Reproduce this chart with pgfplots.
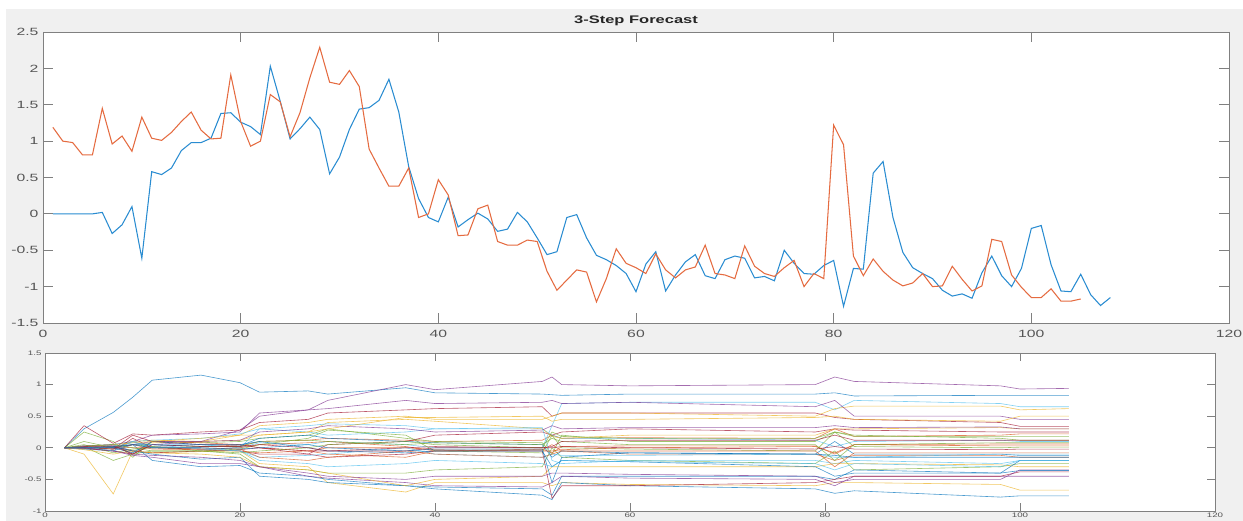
\documentclass[border=0pt]{standalone}
\usepackage{fontspec}
\setmainfont[FakeStretch=1.5]{Liberation Sans}
\usepackage{pgfplots}
\usepackage{pgfplotstable}
\pgfplotsset{compat=1.18}
\definecolor{mblue}{rgb}{0.16,0.55,0.82}
\definecolor{morange}{rgb}{0.90,0.42,0.25}
\definecolor{myellow}{rgb}{0.929,0.694,0.125}
\definecolor{mpurple}{rgb}{0.494,0.184,0.557}
\definecolor{mgreen}{rgb}{0.466,0.674,0.188}
\definecolor{mlblue}{rgb}{0.301,0.745,0.933}
\definecolor{mred}{rgb}{0.635,0.078,0.184}
\definecolor{fblue}{rgb}{0,0.447,0.741}
\definecolor{forange}{rgb}{0.851,0.325,0.098}
\definecolor{figbg}{RGB}{240,240,240}
\definecolor{axc}{RGB}{128,128,128}
\definecolor{tickc}{RGB}{85,85,85}
\pgfplotscreateplotcyclelist{matlab}{{fblue},{forange},{myellow},{mpurple},{mgreen},{mlblue},{mred}}

\pgfplotstableread{
name c1 c2 c3 c4 c5 c6 c7 c8 c9 c10 c11 c12 c13 c14 c15 c16 c17 c18 c19 c20 c21 c22
x 2 4 7 9 11 16 20 22 27 29 37 40 51 52 53 60 79 81 83 98 100 105
s1 0 0.3 0.56 0.8 1.07 1.15 1.03 0.88 0.9 0.85 0.95 0.87 0.85 0.84 0.83 0.85 0.85 0.87 0.82 0.83 0.83 0.83
s2 0 0.02 0 -0.05 0.02 0.05 0.03 0.1 0.12 0.15 0.12 0.1 0.12 0.2 0.15 0.16 0.15 0.3 0.18 0.2 0.22 0.22
s3 0 -0.1 -0.73 -0.05 -0.08 -0.06 -0.05 -0.25 -0.3 -0.55 -0.7 -0.55 -0.55 -0.6 -0.55 -0.58 -0.6 -0.55 -0.55 -0.58 -0.67 -0.67
s4 0 0.03 0.05 -0.1 0.05 0.1 0.28 0.5 0.6 0.75 1.0 0.92 1.05 1.12 1.0 0.98 1.0 1.12 1.05 0.98 0.93 0.94
s5 0 0.25 0.1 -0.15 0.1 0.08 0.1 0.15 0.2 0.3 0.15 0.1 0.08 -0.1 0.2 0.1 0.1 0.25 0.2 0.15 0.12 0.12
s6 0 0.02 0.05 -0.05 0.05 0.05 0 0.08 0.05 0.1 0.05 0.0 0.0 0.35 0.7 0.72 0.72 0.6 0.75 0.7 0.65 0.65
s7 0 0.35 0.07 0.22 0.2 0.25 0.28 0.4 0.45 0.55 0.6 0.62 0.65 0.5 0.55 0.55 0.55 0.48 0.45 0.4 0.34 0.34
s8 0 -0.02 -0.05 0.05 -0.2 -0.3 -0.28 -0.4 -0.45 -0.5 -0.6 -0.65 -0.75 -0.82 -0.55 -0.6 -0.65 -0.72 -0.68 -0.78 -0.76 -0.76
s9 0 0 -0.05 -0.1 0.1 0.08 0.05 0.0 -0.05 -0.1 -0.15 -0.05 -0.03 0.05 -0.05 -0.1 -0.1 -0.2 -0.12 -0.12 -0.15 -0.15
s10 0 0 0.02 0.05 0.08 0.1 0.2 0.35 0.4 0.45 0.5 0.45 0.45 0.5 0.55 0.55 0.5 0.62 0.66 0.66 0.6 0.62
s11 0 0.03 0.05 0.1 0.2 0.22 0.25 0.55 0.6 0.62 0.75 0.7 0.72 0.75 0.7 0.72 0.65 0.75 0.5 0.5 0.45 0.45
s12 0 0.02 -0.2 -0.1 -0.05 -0.05 -0.1 -0.3 -0.35 -0.4 -0.4 -0.35 -0.3 0.0 -0.15 -0.2 -0.25 -0.05 -0.35 -0.3 -0.25 -0.25
s13 0 0 -0.02 0.05 0.02 0.05 0.0 0.3 0.25 0.2 0.25 0.3 0.3 0.2 0.15 0.15 0.12 0.02 0.1 0.12 0.1 0.1
s14 0 0 0.03 -0.05 -0.08 -0.05 -0.03 0.0 -0.1 0.05 0.1 0.2 0.25 0.2 0.25 0.3 0.25 0.3 0.28 0.25 0.25 0.25
s15 0 0 0.02 -0.05 -0.1 -0.18 -0.15 -0.45 -0.5 -0.55 -0.6 -0.62 -0.65 -0.75 -0.45 -0.45 -0.45 -0.5 -0.35 -0.4 -0.36 -0.36
s16 0 0.01 -0.02 0.1 0.0 -0.02 0.0 0.05 0.08 0.1 0.02 -0.05 -0.02 -0.08 0.02 0.03 0.03 -0.1 0.05 0.03 0.03 0.03
s17 0 -0.02 0.0 0.1 0.12 0.1 0.12 0.2 0.25 0.4 0.45 0.42 0.3 0.18 0.15 0.2 0.2 0.3 0.3 0.32 0.3 0.3
s18 0 0 -0.05 -0.12 -0.15 -0.25 -0.25 -0.3 -0.45 -0.48 -0.55 -0.6 -0.62 -0.55 -0.45 -0.48 -0.5 -0.6 -0.45 -0.45 -0.45 -0.45
s19 0 0.1 0.0 0.05 0.02 -0.05 -0.02 0.05 0.15 0.28 0.2 -0.05 -0.08 0.2 0.0 -0.02 -0.05 0.25 0.02 0.0 0.01 0.01
s20 0 0 0.05 0.1 0.12 0.15 0.22 0.3 0.35 0.38 0.35 0.3 0.32 -0.2 -0.25 -0.2 -0.2 -0.25 -0.2 -0.25 -0.2 -0.2
s21 0 -0.01 -0.05 0.15 0.0 -0.02 -0.05 -0.1 -0.1 -0.15 -0.1 -0.05 -0.05 -0.8 -0.6 -0.6 -0.55 -0.5 -0.45 -0.45 -0.38 -0.38
s22 0 0.01 0.0 0.05 0.05 0.02 0.03 0.15 0.2 0.15 0.1 0.08 0.05 -0.15 -0.05 -0.08 -0.1 0.1 -0.1 -0.1 -0.12 -0.12
s23 0 0 -0.02 0.05 -0.02 -0.03 -0.05 -0.08 -0.05 0.0 0.0 -0.03 -0.05 -0.05 -0.03 0.0 0.02 -0.08 0.05 0.06 0.06 0.06
s24 0 -0.03 -0.1 -0.05 -0.08 -0.1 -0.15 -0.3 -0.35 -0.4 -0.6 -0.5 -0.45 -0.3 -0.3 -0.3 -0.3 -0.25 -0.25 -0.27 -0.3 -0.3
s25 0 0.02 0.0 0.05 0.1 0.1 0.12 0.25 0.3 0.35 0.3 0.25 0.28 0.35 0.3 0.32 0.32 0.35 0.32 0.33 0.3 0.3
s26 0 0.05 -0.08 -0.02 0.0 0.02 0.02 0.1 0.12 0.1 0.05 0.08 0.05 0.15 0.1 0.05 0.05 -0.2 0.05 0.08 0.08 0.08
s27 0 -0.02 0.02 0.08 0.05 -0.02 -0.05 -0.15 -0.12 -0.1 0.0 -0.1 -0.15 -0.1 -0.12 -0.12 -0.1 -0.15 -0.15 -0.1 -0.1 -0.1
s28 0 0 -0.02 0.2 0.1 0.05 0.05 0.0 -0.05 -0.05 0.0 0.02 0.0 0.0 0.02 0.0 -0.02 0.02 -0.02 -0.03 -0.02 -0.02
s29 0 0 0 -0.08 0.1 0.05 0.05 0.1 0.0 -0.05 -0.08 -0.05 -0.05 -0.3 -0.2 -0.22 -0.3 -0.45 -0.4 -0.4 -0.2 -0.2
s30 0 0 0.02 0.0 0.0 0.0 -0.02 -0.15 -0.2 -0.15 -0.05 -0.1 -0.15 -0.1 -0.05 -0.05 -0.05 -0.3 -0.08 -0.08 -0.08 -0.08
s31 0 0.02 0.05 0.08 0.1 0.15 0.2 0.2 0.25 0.3 0.48 0.48 0.5 0.42 0.45 0.45 0.48 0.5 0.45 0.42 0.5 0.5
s32 0 0 -0.05 -0.1 -0.12 -0.15 -0.2 -0.3 -0.4 -0.45 -0.5 -0.45 -0.45 -0.4 -0.4 -0.42 -0.45 -0.55 -0.5 -0.5 -0.35 -0.35
s33 0 0.03 0.05 0.0 -0.05 -0.05 -0.08 -0.05 0.0 0.05 0.1 0.05 0.0 0.25 0.18 0.15 0.15 0.25 0.18 0.18 0.18 0.18
s34 0 0.02 -0.05 0.1 0.0 0.0 -0.05 -0.2 -0.25 -0.3 -0.25 -0.2 -0.25 -0.3 -0.2 -0.22 -0.25 -0.35 -0.25 -0.3 -0.2 -0.2
s35 0 0.02 0.03 -0.1 0.05 0.02 0.02 0.05 0.0 -0.05 -0.05 0.0 0.0 0.02 0.1 0.12 0.12 0.2 0.12 0.12 0.12 0.12
s36 0 0.0 0.02 0.05 0.0 0.0 -0.02 0.0 0.05 0.0 -0.05 -0.02 -0.02 -0.55 -0.15 -0.08 -0.1 -0.12 -0.15 -0.15 -0.15 -0.15
}\rawtab
\pgfplotstabletranspose[colnames from=name]\fantab\rawtab

\pgfplotsset{
  matlabaxis/.style={
    scale only axis, anchor=south west,
    xmin=0, xmax=120,
    axis background/.style={fill=white},
    tick align=inside,
    axis line style={axc, line width=0.8pt},
    every tick/.style={axc, line width=0.8pt},
    /pgf/number format/assume math mode=true,
    /pgf/number format/fixed,
    ticklabel style={text=tickc},
    xtick={0,20,...,120},
    no markers,
  }
}

\begin{document}
\begin{tikzpicture}[x=1pt,y=1pt]
\useasboundingbox (0,0) rectangle (1243,521);
\fill[white] (0,0) rectangle (1243,521);
\fill[figbg] (6,0) rectangle (1243,512);

\begin{axis}[matlabaxis,
  at={(43pt,198pt)}, width=1186pt, height=291pt,
  ymin=-1.5, ymax=2.5, ytick={-1.5,-1,...,2.5},
  major tick length=10pt,
  ticklabel style={font=\fontsize{10.5}{12}\selectfont},
  xticklabel style={yshift=-3.5pt},
  yticklabel style={xshift=-1pt},
  title={3-Step Forecast},
  title style={font=\bfseries\fontsize{11}{13}\selectfont, text=black!85, at={(0.5,1)}, anchor=center, yshift=5pt},
]
\addplot[mblue, line width=1.05pt] coordinates {
(1,0) (2,0) (3,0) (4,0) (5,0) (6,0.02) (7,-0.27) (8,-0.15) (9,0.10) (10,-0.61)
(11,0.58) (12,0.54) (13,0.63) (14,0.87) (15,0.98) (16,0.98) (17,1.04) (18,1.38) (19,1.39) (20,1.26)
(21,1.20) (22,1.09) (23,2.03) (24,1.55) (25,1.03) (26,1.17) (27,1.33) (28,1.16) (29,0.55) (30,0.78)
(31,1.16) (32,1.44) (33,1.46) (34,1.56) (35,1.85) (36,1.40) (37,0.65) (38,0.21) (39,-0.05) (40,-0.11)
(41,0.23) (42,-0.18) (43,-0.08) (44,0.01) (45,-0.07) (46,-0.24) (47,-0.21) (48,0.02) (49,-0.11) (50,-0.33)
(51,-0.56) (52,-0.52) (53,-0.05) (54,-0.01) (55,-0.33) (56,-0.57) (57,-0.63) (58,-0.71) (59,-0.82) (60,-1.07)
(61,-0.69) (62,-0.52) (63,-1.06) (64,-0.84) (65,-0.66) (66,-0.56) (67,-0.85) (68,-0.89) (69,-0.63) (70,-0.58)
(71,-0.61) (72,-0.88) (73,-0.86) (74,-0.92) (75,-0.50) (76,-0.68) (77,-0.82) (78,-0.83) (79,-0.71) (80,-0.64)
(81,-1.27) (82,-0.75) (83,-0.76) (84,0.56) (85,0.72) (86,-0.05) (87,-0.53) (88,-0.74) (89,-0.82) (90,-0.89)
(91,-1.05) (92,-1.13) (93,-1.10) (94,-1.16) (95,-0.81) (96,-0.58) (97,-0.85) (98,-1.00) (99,-0.75) (100,-0.20)
(101,-0.16) (102,-0.70) (103,-1.06) (104,-1.07) (105,-0.83) (106,-1.11) (107,-1.26) (108,-1.15)
};
\addplot[morange, line width=1.05pt] coordinates {
(1,1.19) (2,1.00) (3,0.98) (4,0.81) (5,0.81) (6,1.45) (7,0.96) (8,1.07) (9,0.86) (10,1.33)
(11,1.04) (12,1.01) (13,1.12) (14,1.27) (15,1.40) (16,1.15) (17,1.03) (18,1.04) (19,1.91) (20,1.27)
(21,0.93) (22,1.00) (23,1.64) (24,1.54) (25,1.06) (26,1.39) (27,1.87) (28,2.29) (29,1.81) (30,1.78)
(31,1.97) (32,1.75) (33,0.89) (34,0.63) (35,0.38) (36,0.38) (37,0.63) (38,-0.05) (39,0.00) (40,0.47)
(41,0.26) (42,-0.30) (43,-0.29) (44,0.07) (45,0.12) (46,-0.38) (47,-0.43) (48,-0.43) (49,-0.36) (50,-0.38)
(51,-0.79) (52,-1.05) (53,-0.91) (54,-0.77) (55,-0.80) (56,-1.21) (57,-0.89) (58,-0.48) (59,-0.68) (60,-0.74)
(61,-0.82) (62,-0.55) (63,-0.77) (64,-0.88) (65,-0.77) (66,-0.73) (67,-0.43) (68,-0.82) (69,-0.84) (70,-0.89)
(71,-0.44) (72,-0.72) (73,-0.82) (74,-0.86) (75,-0.74) (76,-0.64) (77,-1.00) (78,-0.82) (79,-0.89) (80,1.22)
(81,0.95) (82,-0.58) (83,-0.85) (84,-0.62) (85,-0.79) (86,-0.91) (87,-0.99) (88,-0.95) (89,-0.82) (90,-1.00)
(91,-0.99) (92,-0.72) (93,-0.90) (94,-1.06) (95,-0.99) (96,-0.35) (97,-0.38) (98,-0.84) (99,-1.01) (100,-1.15)
(101,-1.15) (102,-1.03) (103,-1.20) (104,-1.20) (105,-1.17)
};
\end{axis}

\begin{axis}[matlabaxis,
  at={(45pt,10pt)}, width=1170pt, height=158pt,
  ymin=-1, ymax=1.5, ytick={-1,-0.5,...,1.5},
  major tick length=8pt,
  ticklabel style={font=\fontsize{6.5}{8}\selectfont},
  xticklabel style={inner sep=1.5pt},
  cycle list name=matlab,
]
\pgfplotsinvokeforeach{1,...,36}{
  \addplot+[line width=0.6pt, opacity=0.7] table[x=x, y=s#1] {\fantab};
}
\end{axis}
\end{tikzpicture}
\end{document}
